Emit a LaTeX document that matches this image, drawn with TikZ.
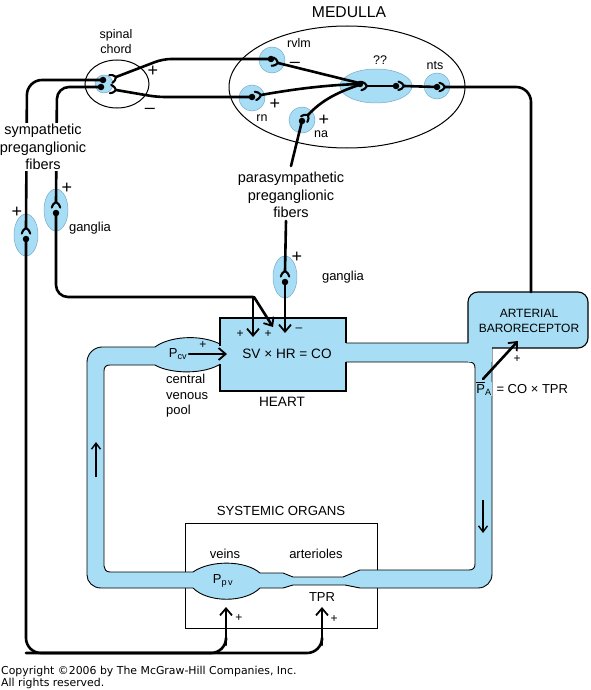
\documentclass[tikz,border=0pt]{standalone}
\usepackage{fontspec}
\setmainfont{Liberation Sans}
\newfontfamily\cpfont{DejaVu Sans}
\usetikzlibrary{calc,arrows.meta,shapes.geometric}
\definecolor{tubeblue}{RGB}{168,222,245}
\definecolor{nucline}{RGB}{120,170,200}
\newcommand\synfork[2]{\draw[fiber,line width=2.1pt] ($(#1)!7pt!143:(#2)$) .. controls ($(#1)!3.5pt!125:(#2)$) .. (#1) .. controls ($(#1)!3.5pt!-125:(#2)$) .. ($(#1)!7pt!-143:(#2)$);}
\tikzset{
  fiber/.style={line width=2.6pt,line cap=round,line join=round},
  soma/.style={circle,fill=black,inner sep=0pt,minimum size=6.5pt},
  nuc/.style={circle,fill=tubeblue,draw=nucline,line width=0.5pt,inner sep=0pt,minimum size=26pt},
  gang/.style={ellipse,fill=tubeblue,draw=nucline,line width=0.5pt,inner sep=0pt,minimum width=24pt,minimum height=42pt},
  txt/.style={inner sep=0pt,font=\fontsize{13}{15.5}\selectfont},
  smalltxt/.style={inner sep=0pt,font=\fontsize{12.5}{15}\selectfont},
  bigtxt/.style={inner sep=0pt,align=center,font=\fontsize{14.5}{17.5}\selectfont},
  bigsign/.style={inner sep=0pt,font=\fontsize{18}{18}\selectfont},
  smallsign/.style={inner sep=0pt,font=\fontsize{12}{12}\selectfont},
  barb/.style={-{Straight Barb[length=7pt,width=12pt,line width=1.8pt]}},
  thinline/.style={draw=black,line width=0.9pt},
}
\begin{document}
\begin{tikzpicture}[x=1pt,y=-1pt]
\useasboundingbox[fill=white] (0,0) rectangle (591,690);

% systemic organs box
\node[thinline,rectangle,minimum width=192pt,minimum height=105pt,inner sep=0pt] (sysbox) at (281,575.5) {};

% circulation tube
\path[fill=tubeblue,thinline,even odd rule]
 (87,575) -- (87,362) .. controls (87,354) and (94,347) .. (102,347)
 -- (155,347) .. controls (168,337) and (200,333) .. (222,345)
 -- (240,345) -- (346,343) -- (492,343)
 -- (492,574) .. controls (492,582) and (486,588) .. (478,588)
 -- (360,588) -- (345,585) -- (293,585) -- (283,588) -- (260,588)
 .. controls (245,603) and (208,603) .. (193,588)
 -- (101,588) .. controls (93,588) and (87,582) .. (87,575) -- cycle
 (104,371) -- (104,566) .. controls (104,569) and (106,572) .. (110,572)
 -- (193,572) .. controls (210,560) and (245,560) .. (260,573)
 -- (283,573) -- (293,577) -- (343,577) -- (360,570) -- (469,570)
 .. controls (473,570) and (475,568) .. (475,564)
 -- (475,368) .. controls (475,364) and (473,362) .. (469,362)
 -- (346,362) -- (240,364) -- (222,363)
 .. controls (205,375) and (170,374) .. (155,365)
 -- (110,365) .. controls (106,365) and (104,367) .. (104,371) -- cycle;

% heart
\fill[tubeblue] (220,318) rectangle (346,391);
\draw[line width=1.1pt] (220,346) -- (220,318) -- (346,318) -- (346,343);
\draw[line width=1.1pt] (346,362) -- (346,391) -- (220,391) -- (220,364);
\coordinate (heart) at (283,354);

% baroreceptor
\fill[tubeblue,rounded corners=10pt] (468,292) rectangle (588,348);
\fill[tubeblue] (468,330) rectangle (492,362);
\draw[line width=1.1pt,rounded corners=10pt] (468,343) -- (468,292) -- (588,292) -- (588,348) -- (492,348);
\node[inner sep=0pt,align=center,font=\fontsize{12}{15}\selectfont] (baro) at (529,321) {ARTERIAL\\BARORECEPTOR};
\coordinate (barotop) at (531,292);

% medulla and spinal cord
\node[draw,ellipse,line width=1pt,minimum width=236pt,minimum height=122pt,inner sep=0pt] (med) at (347,87) {};
\node[inner sep=0pt,font=\fontsize{15.7}{16}\selectfont] (medlbl) at (349,12) {MEDULLA};
\node[draw,ellipse,line width=1pt,minimum width=64pt,minimum height=48pt,inner sep=0pt] (spc) at (117,84) {};
\node[smalltxt,align=center] (spclbl) at (116,42) {spinal\\chord};
\node[nuc,minimum size=18pt] (spn) at (104,84) {};

% nuclei
\node[nuc] (rvlm) at (272,60) {};
\node[nuc] (rn) at (252,98) {};
\node[nuc] (na) at (302,120) {};
\node[nuc] (nts) at (437,86) {};
\node[ellipse,fill=tubeblue,draw=nucline,line width=0.5pt,inner sep=0pt,minimum width=72pt,minimum height=34pt] (qq) at (376,86) {};
\node[smalltxt] (rvlmlbl) at (299,43) {rvlm};
\node[smalltxt] (rnlbl) at (262,118) {rn};
\node[smalltxt] (nalbl) at (321,134) {na};
\node[smalltxt] (ntslbl) at (435,66) {nts};
\node[smalltxt] (qqlbl) at (380,60) {??};

% ganglia
\node[gang] (g1) at (26,235) {};
\node[gang] (g2) at (56,210) {};
\node[gang] (g3) at (285,277) {};

% fork points
\coordinate (frvlm) at (278,63);
\coordinate (frn) at (261,95);
\coordinate (fna) at (308,115);
\coordinate (fq1) at (367,86);
\coordinate (fq2) at (404,86);
\coordinate (fnts) at (445,87);
\coordinate (fsp1) at (116,77);
\coordinate (fsp2) at (116,90);
\coordinate (fg1) at (26,228);
\coordinate (fg2) at (56,202);
\coordinate (fg3) at (285,271);

% fibers
\draw[fiber] (frvlm) -- (359,83);
\draw[fiber] (frn) .. controls (300,88) and (330,85) .. (359,84);
\draw[fiber] (fna) .. controls (320,102) and (335,93) .. (359,85);
\draw[fiber] (fq1) -- (396,86);
\draw[fiber] (fq2) -- (437,87);
\draw[fiber,rounded corners=15pt] (barotop) -- (531,87) -- (fnts);
\draw[fiber,rounded corners=8pt] (271,59) -- (163,59) -- (fsp1);
\draw[fiber,rounded corners=8pt] (252,97) -- (157,97) -- (fsp2);
\draw[fiber,rounded corners=15pt] (103,80) -- (27,80) -- (fg1);
\draw[fiber,rounded corners=12pt] (101,87) -- (57,87) -- (fg2);
\draw[fiber,rounded corners=15pt] (26,239) -- (26,653) -- (226,653) -- (226,640);
\draw[fiber,rounded corners=15pt] (26,653) -- (322,653) -- (322,640);
\draw[fiber,barb] (226,645) -- (226,607);
\draw[fiber,barb] (322,645) -- (322,607);
\draw[fiber,rounded corners=12pt] (56,213) -- (56,297) -- (253,297);
\draw[fiber,barb] (253,297) -- (253,337);
\draw[fiber,barb] (254,297) -- (273,327);
\draw[fiber] (302,121) -- (291,166);
\draw[fiber] (286,221) -- (fg3);
\draw[fiber,barb] (285,282) -- (285,333);

\synfork{frvlm}{359,83}
\synfork{frn}{285,91}
\synfork{fna}{320,102}
\synfork{fq1}{396,86}
\synfork{fq2}{437,87}
\synfork{fnts}{520,87}
\synfork{fsp1}{163,59}
\synfork{fsp2}{157,97}
\synfork{fg1}{26,200}
\synfork{fg2}{56,180}
\synfork{fg3}{285,245}

\foreach \n/\p in {srvlm/{(271,59)},srn/{(252,97)},sna/{(302,121)},sq1/{(360,84)},sq2/{(396,86)},snts/{(437,87)},ssp1/{(103,80)},ssp2/{(101,87)},sg1/{(26,239)},sg2/{(56,213)},sg3/{(285,282)}}
  \node[soma] (\n) at \p {};

% fiber labels
\node[bigtxt,fill=white,inner sep=1pt] (symlbl) at (43,147) {sympathetic\\preganglionic\\fibers};
\node[bigtxt] (parlbl) at (291,195) {parasympathetic\\preganglionic\\fibers};
\node[txt] (ganglbl1) at (90,228) {ganglia};
\node[txt] (ganglbl2) at (343,277) {ganglia};

% signs
\node[bigsign] at (153,71) {+};
\node[bigsign] at (150,111) {–};
\node[bigsign] at (295,65) {–};
\node[bigsign] at (275,104) {+};
\node[bigsign] at (324,120) {+};
\node[bigsign] at (17,212) {+};
\node[bigsign] at (67,188) {+};
\node[bigsign] at (297,257) {+};
\node[smallsign] at (240,334) {+};
\node[smallsign] at (268,334) {+};
\node[smallsign] at (299,330) {–};

% heart texts
\node[inner sep=0pt,font=\fontsize{13.6}{16}\selectfont] (eqn) at (287,354) {SV × HR = CO};
\node[inner sep=0pt,font=\fontsize{13.6}{16}\selectfont] (heartlbl) at (282,402) {HEART};
\node[inner sep=0pt,font=\fontsize{13}{15}\selectfont] (pcv) at (178,354) {P\textsubscript{cv}};
\draw[fiber,barb] (189,354) -- (227,354);
\node[smallsign] at (203,345) {+};
\node[txt,align=left,anchor=north west] (cvp) at (166,374) {central\\venous\\pool};

% tube flow arrows
\draw[line width=2.4pt,-{Straight Barb[length=6pt,width=9pt,line width=1.4pt]}] (96,477) -- (96,442);
\draw[line width=2.4pt,-{Straight Barb[length=6pt,width=9pt,line width=1.4pt]}] (483,500) -- (483,533);

% arterial pressure
\node[inner sep=0.5pt,fill=tubeblue,font=\fontsize{13}{15}\selectfont] (pa) at (484,389) {\setbox0\hbox{P}\rlap{\rule[\dimexpr\ht0+1.5pt]{\wd0}{0.8pt}}P\textsubscript{A}};
\node[inner sep=0pt,anchor=west,font=\fontsize{13}{15}\selectfont] (paeq) at ([xshift=4pt]pa.east) {= CO × TPR};
\draw[fiber,barb] (483,379) -- (518,341);
\node[smallsign] at (517,359) {+};

% systemic organs
\node[inner sep=0pt,font=\fontsize{13.2}{15}\selectfont] (syslbl) at (281,511) {SYSTEMIC ORGANS};
\node[txt] (veins) at (225,554) {veins};
\node[txt] (art) at (316,554) {arterioles};
\node[txt] (ppv) at (223,581) {P\textsubscript{p\,v}};
\node[txt] (tpr) at (322,597) {TPR};
\node[smallsign] at (239,618) {+};
\node[smallsign] at (334,619) {+};

% copyright
\node[anchor=north west,inner sep=0pt,align=left,font=\cpfont\fontsize{10.9}{12.5}\selectfont] (copy) at (1,666) {Copyright ©2006 by The McGraw-Hill Companies, Inc.\\All rights reserved.};
\end{tikzpicture}
\end{document}
